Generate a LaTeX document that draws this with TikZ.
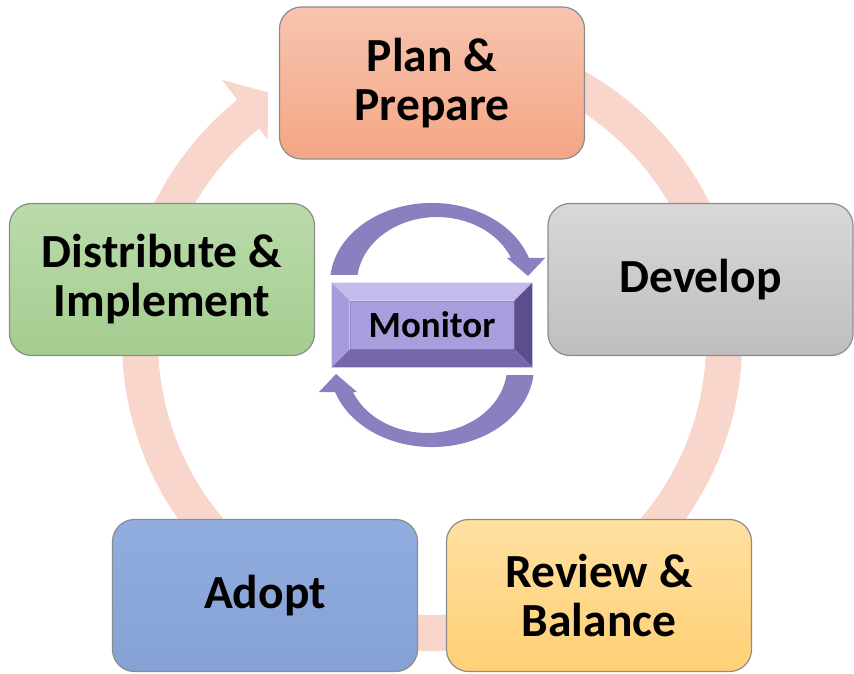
\documentclass[tikz,border=0pt]{standalone}
\usepackage{fontspec}
\setmainfont{Carlito}
\usepackage{tikz}
\definecolor{ringc}{RGB}{248,214,203}
\definecolor{monarc}{RGB}{140,127,192}
\definecolor{monface}{RGB}{170,157,221}
\definecolor{monline}{RGB}{150,136,205}
\definecolor{bevtop}{RGB}{196,186,236}
\definecolor{bevleft}{RGB}{168,155,220}
\definecolor{bevright}{RGB}{92,78,140}
\definecolor{bevbot}{RGB}{118,103,170}
\definecolor{plantop}{RGB}{247,196,175}
\definecolor{planbot}{RGB}{244,166,132}
\definecolor{devtop}{RGB}{216,216,216}
\definecolor{devbot}{RGB}{190,190,190}
\definecolor{revtop}{RGB}{255,224,160}
\definecolor{revbot}{RGB}{255,208,118}
\definecolor{adopttop}{RGB}{145,172,222}
\definecolor{adoptbot}{RGB}{134,161,213}
\definecolor{disttop}{RGB}{186,219,170}
\definecolor{distbot}{RGB}{164,205,143}

\begin{document}
\begin{tikzpicture}[x=1pt, y=1pt, >=stealth,
  every node/.style={font=\bfseries\fontsize{47.5}{49}\selectfont},
  stage/.style={draw=black!45, line width=1.2pt, rounded corners=22pt, align=center,
    minimum width=305pt, minimum height=152pt, inner sep=0pt},
  bevel/.style={line join=round}]
  \useasboundingbox (0,0) rectangle (854,673);
  \begin{scope}[shift={(432,332)}]
    \draw[ringc, line width=36pt] (100:292) arc[start angle=100, end angle=-231.6, radius=292];
    \fill[ringc] (128.8:335) -- (123.4:298) -- (129.2:260) -- cycle;
  \end{scope}
  \node[stage, top color=plantop, bottom color=planbot] (plan) at (432,590) {Plan \&\\Prepare};
  \node[stage, top color=devtop, bottom color=devbot] (dev) at (700.5,393.5) {Develop};
  \node[stage, top color=revtop, bottom color=revbot] (rev) at (599,77.5) {Review \&\\Balance};
  \node[stage, top color=adopttop, bottom color=adoptbot] (adopt) at (265,77.5) {Adopt};
  \node[stage, top color=disttop, bottom color=distbot] (dist) at (162,393.5) {Distribute \&\\Implement};
  \fill[monarc] (330.5,398) arc[start angle=174.3, end angle=18.2, x radius=102, y radius=80]
    -- (545,415) -- (528,397) -- (507,415) -- (511,415)
    arc[start angle=22.3, end angle=173, x radius=80, y radius=66] -- cycle;
  \fill[monarc, rotate around={180:(432,348)}] (330.5,398) arc[start angle=174.3, end angle=18.2, x radius=102, y radius=80]
    -- (545,415) -- (528,397) -- (507,415) -- (511,415)
    arc[start angle=22.3, end angle=173, x radius=80, y radius=66] -- cycle;
  \node[fill=monface, draw=monline, line width=0.8pt, minimum width=164pt, minimum height=48pt, inner sep=0pt,
    font=\bfseries\fontsize{37}{40}\selectfont] (mon) at (432,348) {Monitor};
  \fill[bevel, bevtop] ([shift={(-18,18)}]mon.north west) -- ([shift={(18,18)}]mon.north east) -- (mon.north east) -- (mon.north west) -- cycle;
  \fill[bevel, bevleft] ([shift={(-18,18)}]mon.north west) -- ([shift={(-18,-18)}]mon.south west) -- (mon.south west) -- (mon.north west) -- cycle;
  \fill[bevel, bevright] ([shift={(18,18)}]mon.north east) -- ([shift={(18,-18)}]mon.south east) -- (mon.south east) -- (mon.north east) -- cycle;
  \fill[bevel, bevbot] ([shift={(-18,-18)}]mon.south west) -- ([shift={(18,-18)}]mon.south east) -- (mon.south east) -- (mon.south west) -- cycle;
\end{tikzpicture}
\end{document}
